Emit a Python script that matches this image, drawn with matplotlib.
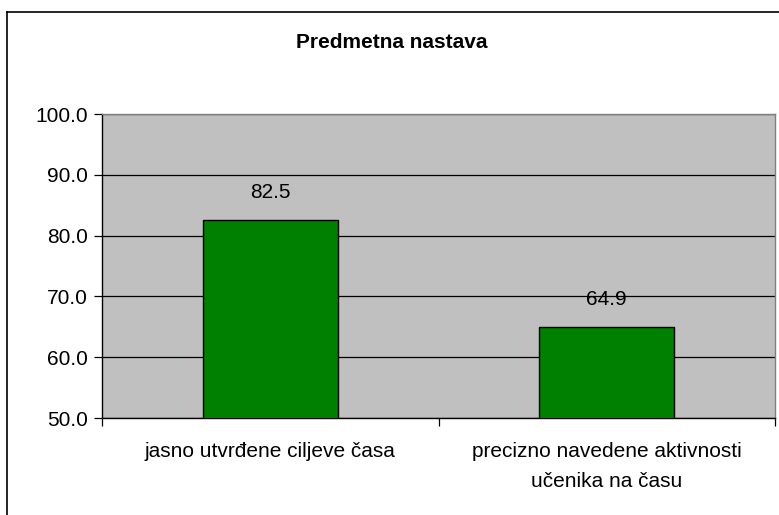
import matplotlib
matplotlib.use("Agg")
import matplotlib.pyplot as plt
from matplotlib.lines import Line2D

plt.rcParams['font.family'] = ['Liberation Sans', 'DejaVu Sans']

categories = ["jasno utvrđene ciljeve časa", "precizno navedene aktivnosti\nučenika na času"]
values = [82.5, 64.9]
yticks = [50.0, 60.0, 70.0, 80.0, 90.0, 100.0]
title = "Predmetna nastava"

W, H = 779, 515
fig = plt.figure(figsize=(W / 100, H / 100), dpi=100)
fig.patch.set_facecolor('white')

# plot area in pixels
left, right, top, bottom = 102, 775, 114, 418
ax = fig.add_axes([left / W, 1 - bottom / H, (right - left) / W, (bottom - top) / H])
ax.set_facecolor('#C0C0C0')

x = list(range(len(categories)))
ax.bar(x, values, width=0.4, color='#008000', edgecolor='black', linewidth=1.0, zorder=3)
ax.set_xlim(-0.5, len(categories) - 0.5)
ax.set_ylim(50, 100)
ax.set_yticks(yticks)
ax.set_yticklabels([f"{v:.1f}" for v in yticks], fontsize=15)
ax.yaxis.grid(True, color='black', linewidth=0.9, zorder=1)
ax.set_axisbelow(True)

ax.set_xticks(x)
ax.set_xticklabels(categories, fontsize=15, linespacing=1.75)
ax.set_xticks([-0.5, 0.5, 1.5], minor=True)
ax.tick_params(axis='x', which='major', length=0, pad=17)
ax.tick_params(axis='x', which='minor', length=6, color='black', width=0.9)
ax.tick_params(axis='y', length=6, color='black', width=0.9, pad=4)

for s in ['top', 'right']:
    ax.spines[s].set_color('#808080')
    ax.spines[s].set_linewidth(1.0)
for s in ['left', 'bottom']:
    ax.spines[s].set_color('black')
    ax.spines[s].set_linewidth(1.0)

for xi, v in zip(x, values):
    ax.text(xi, v + 3.0, f"{v:.1f}", ha='center', va='bottom', fontsize=15)

fig.text(392 / W, 1 - 42 / H, title, ha='center', va='center', fontsize=15, fontweight='bold')

# outer chart border (left and top visible)
fig.add_artist(Line2D([7 / W, 7 / W], [0, 1 - 12 / H], transform=fig.transFigure, color='black', linewidth=1.2))
fig.add_artist(Line2D([7 / W, 1], [1 - 12 / H, 1 - 12 / H], transform=fig.transFigure, color='black', linewidth=1.2))

fig.savefig("out.png", dpi=100)
